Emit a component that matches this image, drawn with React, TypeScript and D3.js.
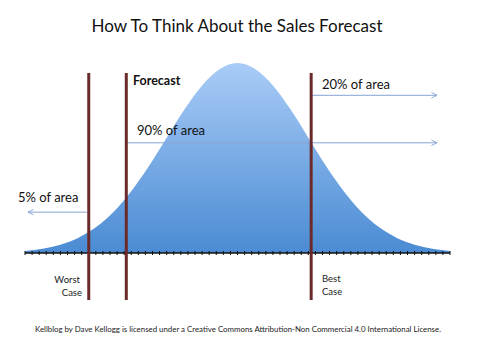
import React from 'react';
import * as d3 from 'd3';

const curveZ = [-3, -2.75, -2.5, -2.25, -2, -1.75, -1.5, -1.25, -1, -0.75, -0.5, -0.25, 0, 0.25, 0.5, 0.75, 1, 1.25, 1.5, 1.75, 2, 2.25, 2.5, 2.75, 3];
const curveHeight = [1.1, 2.3, 4.4, 7.9, 13.5, 21.6, 32.5, 45.8, 60.7, 75.5, 88.2, 96.9, 100, 96.9, 88.2, 75.5, 60.7, 45.8, 32.5, 21.6, 13.5, 7.9, 4.4, 2.3, 1.1];

// marker lines (in std dev units)
const markerNames = ['worst', 'forecast', 'best'];
const markerZ = [-2.1, -1.57, 1.04];

// arrow heights, % of peak
const arrowTopLevel = 83;
const arrowMidLevel = 58;
const arrowLowLevel = 21.5;

// tick marks along the axis
const tickValues = d3.range(0, 61).map(i => -3 + i * 0.1);

const W = 500;
const H = 353;

export default function App() {
  const x = d3.scaleLinear().domain([-3, 3]).range([25, 450]);
  const y = d3.scaleLinear().domain([0, 100]).range([253, 63]);

  const pts = curveZ.map((z, i) => [z, curveHeight[i]] as [number, number]);
  const area = d3.area<[number, number]>()
    .x(d => x(d[0]))
    .y0(y(0))
    .y1(d => y(d[1]))
    .curve(d3.curveMonotoneX);

  const lineColor = '#6b2a2a';
  const arrowColor = '#86a4d2';
  const font = 'Lato, "Open Sans", sans-serif';

  const mx = markerZ.map(z => x(z));
  const arrowEnd = 437;

  return (
    <svg width={W} height={H} style={{ position: 'absolute', left: 0, top: 0, background: '#fff' }} fontFamily={font}>
      <defs>
        <linearGradient id="bell" x1="0" y1="0" x2="0" y2="1">
          <stop offset="0%" stopColor="#a9ccf7" />
          <stop offset="100%" stopColor="#4a8bd3" />
        </linearGradient>
        <marker id="arr" viewBox="0 0 10 10" refX="9" refY="5" markerWidth="7" markerHeight="7" orient="auto-start-reverse" markerUnits="userSpaceOnUse">
          <path d="M1,1 L9,5 L1,9" fill="none" stroke={arrowColor} strokeWidth="1.3" />
        </marker>
      </defs>

      <text x={237} y={32} textAnchor="middle" fontSize={17} fill="#111">How To Think About the Sales Forecast</text>

      <path d={area(pts) || ''} fill="url(#bell)" />

      {/* axis */}
      <line x1={x(-3)} x2={x(3)} y1={y(0)} y2={y(0)} stroke="#111" strokeWidth={1.5} />
      {tickValues.map((t, i) => (
        <line key={i} x1={x(t)} x2={x(t)} y1={y(0) - 2} y2={y(0) + 2} stroke="#111" strokeWidth={1} />
      ))}

      {/* arrows */}
      <line x1={mx[2]} x2={arrowEnd} y1={y(arrowTopLevel)} y2={y(arrowTopLevel)} stroke={arrowColor} strokeWidth={1} markerEnd="url(#arr)" />
      <line x1={mx[1]} x2={arrowEnd} y1={y(arrowMidLevel)} y2={y(arrowMidLevel)} stroke={arrowColor} strokeWidth={1} markerEnd="url(#arr)" />
      <line x1={mx[0] - 2} x2={28} y1={y(arrowLowLevel)} y2={y(arrowLowLevel)} stroke={arrowColor} strokeWidth={1} markerEnd="url(#arr)" />

      {/* marker lines */}
      {markerNames.map((n, i) => (
        <line key={n} x1={mx[i]} x2={mx[i]} y1={73} y2={300} stroke={lineColor} strokeWidth={3} />
      ))}

      <text x={133} y={85} fontSize={12.5} fontWeight="bold" fill="#111">Forecast</text>
      <text x={322} y={89} fontSize={13} fill="#111">20% of area</text>
      <text x={137} y={135} fontSize={13} fill="#111">90% of area</text>
      <text x={18} y={202} fontSize={13} fill="#111">5% of area</text>

      <text x={80} y={283} fontSize={9.5} textAnchor="end" fill="#222">Worst</text>
      <text x={82} y={296} fontSize={9.5} textAnchor="end" fill="#222">Case</text>
      <text x={322} y={282} fontSize={9.5} fill="#222">Best</text>
      <text x={322} y={295} fontSize={9.5} fill="#222">Case</text>

      <text x={35} y={332} fontSize={7.5} fill="#222" textLength={406} lengthAdjust="spacingAndGlyphs">Kellblog by Dave Kellogg is licensed under a Creative Commons Attribution-Non Commercial 4.0 International License.</text>
    </svg>
  );
}
